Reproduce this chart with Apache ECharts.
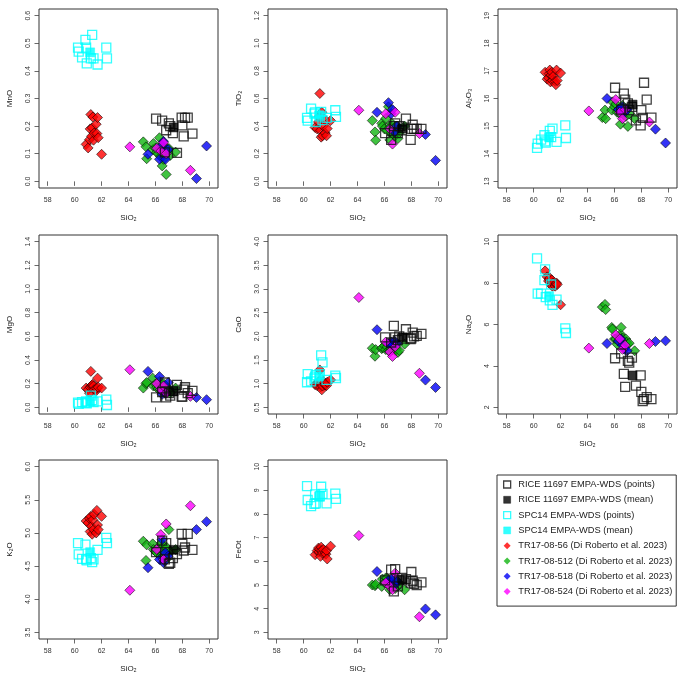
<!DOCTYPE html>
<html><head><meta charset="utf-8">
<script src="https://cdn.jsdelivr.net/npm/echarts@6/dist/echarts.min.js"></script>
<style>html,body{margin:0;padding:0;background:#fff}#c{width:685px;height:679px}</style>
</head><body><div id="c"></div>
<script>
// ---------- axis ticks ----------
const xTicks = [58, 60, 62, 64, 66, 68, 70];
const oxideLabels = ['MnO', 'TiO₂', 'Al₂O₃', 'MgO', 'CaO', 'Na₂O', 'K₂O', 'FeOt'];
const yTicksMnO = [0, 0.1, 0.2, 0.3, 0.4, 0.5, 0.6];
const yTicksTiO2 = [0, 0.2, 0.4, 0.6, 0.8, 1.0, 1.2];
const yTicksAl2O3 = [13, 14, 15, 16, 17, 18, 19];
const yTicksMgO = [0, 0.2, 0.4, 0.6, 0.8, 1.0, 1.2, 1.4];
const yTicksCaO = [0.5, 1.0, 1.5, 2.0, 2.5, 3.0, 3.5, 4.0];
const yTicksNa2O = [2, 4, 6, 8, 10];
const yTicksK2O = [3.5, 4.0, 4.5, 5.0, 5.5, 6.0];
const yTicksFeOt = [3, 4, 5, 6, 7, 8, 9, 10];
const yDecimals = [1, 1, 0, 1, 1, 0, 1, 0];

// ---------- RICE 11697 EMPA-WDS (points) ----------
const riceSiO2 = [66.05, 66.5, 66.7, 66.8, 67.0, 67.1, 67.3, 67.6, 67.95, 68.0, 68.1, 68.2, 68.4, 68.75];
const riceMnO  = [0.227, 0.22, 0.105, 0.185, 0.21, 0.20, 0.175, 0.103, 0.231, 0.203, 0.163, 0.23, 0.231, 0.173];
const riceTiO2 = [0.35, 0.30, 0.40, 0.42, 0.35, 0.40, 0.37, 0.455, 0.30, 0.38, 0.41, 0.38, 0.38, 0.38];
const riceAl2O3 = [16.39, 15.6, 16.18, 15.96, 15.82, 15.58, 15.7, 15.21, 15.03, 15.58, 15.3, 16.57, 15.96, 15.31];
const riceMgO  = [0.085, 0.13, 0.21, 0.085, 0.12, 0.10, 0.14, 0.19, 0.09, 0.09, 0.15, 0.17, 0.12, 0.14];
const riceCaO  = [1.98, 1.87, 2.22, 1.98, 1.92, 2.0, 1.95, 2.15, 1.94, 1.96, 2.08, 2.0, 2.01, 2.05];
const riceNa2O = [4.37, 4.6, 3.62, 2.99, 4.24, 4.16, 4.4, 3.05, 3.54, 2.75, 2.3, 2.4, 2.49, 2.4];
const riceK2O  = [4.71, 4.885, 4.6, 4.845, 4.535, 4.55, 4.62, 4.68, 4.985, 4.835, 4.735, 4.78, 4.985, 4.745];
const riceFeOt = [5.2, 5.65, 4.73, 5.67, 4.94, 5.2, 5.3, 5.25, 5.1, 5.55, 5.18, 5.05, 5.0, 5.11];

// ---------- RICE 11697 EMPA-WDS (mean) ----------
const riceMeanSiO2 = [67.35];
const riceMeanMnO = [0.195];
const riceMeanTiO2 = [0.382];
const riceMeanAl2O3 = [15.78];
const riceMeanMgO = [0.135];
const riceMeanCaO = [1.98];
const riceMeanNa2O = [3.54];
const riceMeanK2O = [4.745];
const riceMeanFeOt = [5.22];

// ---------- SPC14 EMPA-WDS (points) ----------
const spcSiO2 = [60.25, 60.3, 60.55, 60.8, 60.85, 60.9, 61.2, 61.3, 61.4, 61.7, 62.35, 62.4];
const spcMnO  = [0.484, 0.47, 0.449, 0.512, 0.484, 0.427, 0.445, 0.53, 0.445, 0.423, 0.484, 0.445];
const spcTiO2 = [0.46, 0.44, 0.527, 0.49, 0.50, 0.43, 0.47, 0.503, 0.443, 0.46, 0.515, 0.467];
const spcAl2O3 = [14.21, 14.37, 14.51, 14.67, 14.45, 14.4, 14.83, 14.6, 14.91, 14.43, 15.03, 14.57];
const spcMgO  = [0.04, 0.03, 0.045, 0.04, 0.05, 0.035, 0.1, 0.06, 0.045, 0.05, 0.065, 0.02];
const spcCaO  = [1.03, 1.2, 1.05, 1.11, 1.15, 1.18, 1.2, 1.6, 1.45, 1.08, 1.17, 1.12];
const spcNa2O = [9.19, 7.49, 7.49, 8.14, 8.66, 7.32, 7.16, 7.93, 6.95, 7.2, 5.81, 5.59];
const spcK2O  = [4.845, 4.675, 4.61, 4.825, 4.6, 4.585, 4.62, 4.56, 4.6, 4.745, 4.925, 4.845];
const spcFeOt = [9.18, 8.59, 8.33, 8.43, 8.83, 8.45, 8.75, 9.15, 8.85, 8.45, 8.86, 8.64];

// ---------- SPC14 EMPA-WDS (mean) ----------
const spcMeanSiO2 = [61.15];
const spcMeanMnO = [0.467];
const spcMeanTiO2 = [0.479];
const spcMeanAl2O3 = [14.6];
const spcMeanMgO = [0.05];
const spcMeanCaO = [1.15];
const spcMeanNa2O = [7.37];
const spcMeanK2O = [4.71];
const spcMeanFeOt = [8.73];

// ---------- TR17-08-56 ----------
const t56SiO2 = [60.85, 61.0, 61.1, 61.15, 61.2, 61.25, 61.3, 61.35, 61.4, 61.45, 61.6, 61.65, 61.7, 61.75, 62.0];
const t56MnO  = [0.134, 0.121, 0.151, 0.19, 0.242, 0.163, 0.194, 0.233, 0.149, 0.175, 0.207, 0.173, 0.231, 0.158, 0.098];
const t56TiO2 = [0.39, 0.38, 0.43, 0.47, 0.636, 0.37, 0.32, 0.50, 0.33, 0.40, 0.35, 0.44, 0.33, 0.382, 0.44];
const t56Al2O3 = [16.95, 16.7, 16.75, 16.9, 17.03, 16.6, 16.85, 16.95, 16.65, 16.8, 16.62, 16.5, 17.03, 16.65, 16.92];
const t56MgO  = [0.163, 0.15, 0.12, 0.17, 0.304, 0.18, 0.19, 0.195, 0.18, 0.15, 0.14, 0.16, 0.247, 0.17, 0.163];
const t56CaO  = [0.98, 0.96, 1.02, 1.05, 1.29, 0.93, 1.0, 0.87, 0.95, 1.05, 0.97, 1.0, 0.96, 1.03, 1.08];
const t56Na2O = [8.59, 8.3, 8.1, 8.2, 8.25, 8.05, 7.9, 8.15, 7.85, 8.0, 7.85, 7.95, 8.0, 7.93, 6.95];
const t56K2O  = [5.18, 5.15, 5.22, 5.02, 5.25, 5.1, 4.98, 5.2, 5.05, 5.28, 5.0, 5.34, 5.12, 5.05, 5.25];
const t56FeOt = [6.28, 6.45, 6.56, 6.4, 6.5, 6.21, 6.6, 6.45, 6.35, 6.5, 6.35, 6.3, 6.45, 6.1, 6.64];

// ---------- TR17-08-512 ----------
const t512SiO2 = [65.1, 65.3, 65.35, 65.8, 65.85, 66.0, 66.1, 66.2, 66.3, 66.4, 66.45, 66.5, 66.55, 66.6, 66.7, 66.8, 66.85, 66.9, 67.0, 67.1, 67.5];
const t512MnO  = [0.143, 0.125, 0.082, 0.115, 0.137, 0.12, 0.105, 0.10, 0.158, 0.09, 0.13, 0.056, 0.11, 0.08, 0.10, 0.025, 0.12, 0.11, 0.119, 0.094, 0.106];
const t512TiO2 = [0.44, 0.358, 0.298, 0.42, 0.40, 0.38, 0.455, 0.37, 0.54, 0.30, 0.40, 0.35, 0.42, 0.345, 0.38, 0.33, 0.40, 0.36, 0.31, 0.35, 0.40];
const t512Al2O3 = [15.31, 15.58, 15.27, 15.58, 15.88, 15.7, 15.8, 15.5, 15.6, 15.45, 15.07, 15.65, 15.5, 15.75, 15.4, 15.55, 15.35, 15.6, 14.99, 15.45, 15.27];
const t512MgO  = [0.163, 0.20, 0.21, 0.247, 0.18, 0.197, 0.17, 0.155, 0.22, 0.15, 0.19, 0.17, 0.14, 0.20, 0.15, 0.18, 0.13, 0.16, 0.14, 0.12, 0.163];
const t512CaO  = [1.75, 1.58, 1.72, 1.74, 1.76, 1.80, 1.72, 1.78, 1.70, 1.69, 1.82, 1.75, 1.80, 1.72, 1.78, 1.70, 1.75, 1.72, 1.66, 1.70, 1.835];
const t512Na2O = [6.84, 6.97, 6.72, 5.86, 5.78, 5.3, 5.3, 5.05, 5.2, 5.4, 5.54, 5.86, 5.2, 5.35, 5.0, 5.1, 5.3, 5.15, 5.05, 5.1, 4.73];
const t512K2O  = [4.875, 4.585, 4.82, 4.835, 4.75, 4.72, 4.70, 4.78, 4.735, 4.65, 4.85, 4.75, 4.62, 4.80, 4.70, 4.60, 4.78, 4.68, 5.05, 4.72, 4.75];
const t512FeOt = [5.0, 4.97, 5.03, 4.94, 5.25, 5.1, 5.3, 5.29, 5.05, 4.8, 5.1, 5.2, 4.9, 5.15, 5.0, 4.85, 5.1, 5.2, 4.95, 5.05, 4.8];

// ---------- TR17-08-518 ----------
const t518SiO2 = [65.45, 66.3, 66.5, 66.6, 66.75, 66.95, 69.05, 69.8];
const t518MnO  = [0.098, 0.08, 0.13, 0.145, 0.08, 0.115, 0.01, 0.128];
const t518TiO2 = [0.50, 0.57, 0.49, 0.52, 0.36, 0.40, 0.34, 0.152];
const t518Al2O3 = [16.0, 15.6, 15.55, 15.7, 15.5, 15.6, 14.89, 14.39];
const t518MgO  = [0.304, 0.26, 0.11, 0.13, 0.12, 0.21, 0.084, 0.065];
const t518CaO  = [2.14, 1.85, 1.88, 1.82, 1.90, 1.85, 1.076, 0.92];
const t518Na2O = [5.08, 5.2, 5.3, 5.0, 4.8, 4.73, 5.18, 5.21];
const t518K2O  = [4.475, 4.6, 4.9, 4.55, 4.70, 4.65, 5.05, 5.17];
const t518FeOt = [5.57, 5.2, 5.1, 5.3, 5.0, 5.15, 3.99, 3.74];

// ---------- TR17-08-524 ----------
const t524SiO2 = [64.1, 66.1, 66.4, 66.6, 66.8, 68.6];
const t524MnO  = [0.125, 0.12, 0.11, 0.14, 0.10, 0.04];
const t524TiO2 = [0.515, 0.49, 0.38, 0.27, 0.50, 0.346];
const t524Al2O3 = [15.55, 15.96, 15.5, 15.27, 15.6, 15.15];
const t524MgO  = [0.318, 0.2, 0.15, 0.18, 0.12, 0.093];
const t524CaO  = [2.82, 1.88, 1.67, 1.575, 1.78, 1.22];
const t524Na2O = [4.86, 5.5, 5.3, 4.8, 5.0, 5.08];
const t524K2O  = [4.135, 4.75, 4.975, 4.6, 5.135, 5.41];
const t524FeOt = [7.09, 5.1, 4.95, 4.8, 5.5, 3.66];

// ---------- assembly ----------
const yTickSets = [yTicksMnO, yTicksTiO2, yTicksAl2O3, yTicksMgO, yTicksCaO, yTicksNa2O, yTicksK2O, yTicksFeOt];
const FONT = '"Liberation Sans", Arial, Helvetica, sans-serif';
const hollow = 'rgba(0,0,0,0)';
const groups = [
  { name: 'TR17-08-56 (Di Roberto et al. 2023)', x: t56SiO2, ys: [t56MnO, t56TiO2, t56Al2O3, t56MgO, t56CaO, t56Na2O, t56K2O, t56FeOt],
    symbol: 'diamond', size: 10, style: { color: '#ff0000', borderColor: '#000', borderWidth: 0.7 }, z: 2 },
  { name: 'TR17-08-512 (Di Roberto et al. 2023)', x: t512SiO2, ys: [t512MnO, t512TiO2, t512Al2O3, t512MgO, t512CaO, t512Na2O, t512K2O, t512FeOt],
    symbol: 'diamond', size: 10, style: { color: '#12b412', borderColor: '#000', borderWidth: 0.7 }, z: 2 },
  { name: 'TR17-08-518 (Di Roberto et al. 2023)', x: t518SiO2, ys: [t518MnO, t518TiO2, t518Al2O3, t518MgO, t518CaO, t518Na2O, t518K2O, t518FeOt],
    symbol: 'diamond', size: 10, style: { color: '#0000f5', borderColor: '#000', borderWidth: 0.7 }, z: 2 },
  { name: 'TR17-08-524 (Di Roberto et al. 2023)', x: t524SiO2, ys: [t524MnO, t524TiO2, t524Al2O3, t524MgO, t524CaO, t524Na2O, t524K2O, t524FeOt],
    symbol: 'diamond', size: 10, style: { color: '#ff00ff', borderColor: '#000', borderWidth: 0.7 }, z: 2 },
  { name: 'RICE 11697 EMPA-WDS (points)', x: riceSiO2, ys: [riceMnO, riceTiO2, riceAl2O3, riceMgO, riceCaO, riceNa2O, riceK2O, riceFeOt],
    symbol: 'rect', size: 9, style: { color: hollow, borderColor: '#111', borderWidth: 1.3 }, z: 3 },
  { name: 'RICE 11697 EMPA-WDS (mean)', x: riceMeanSiO2, ys: [riceMeanMnO, riceMeanTiO2, riceMeanAl2O3, riceMeanMgO, riceMeanCaO, riceMeanNa2O, riceMeanK2O, riceMeanFeOt],
    symbol: 'rect', size: 9, style: { color: '#000', borderColor: '#000', borderWidth: 0.5 }, z: 4 },
  { name: 'SPC14 EMPA-WDS (points)', x: spcSiO2, ys: [spcMnO, spcTiO2, spcAl2O3, spcMgO, spcCaO, spcNa2O, spcK2O, spcFeOt],
    symbol: 'rect', size: 9, style: { color: hollow, borderColor: '#00ffff', borderWidth: 1.3 }, z: 3 },
  { name: 'SPC14 EMPA-WDS (mean)', x: spcMeanSiO2, ys: [spcMeanMnO, spcMeanTiO2, spcMeanAl2O3, spcMeanMgO, spcMeanCaO, spcMeanNa2O, spcMeanK2O, spcMeanFeOt],
    symbol: 'rect', size: 9, style: { color: '#00ffff', borderColor: '#00ffff', borderWidth: 0.5 }, z: 4 }
];
const legendOrder = [4, 5, 6, 7, 0, 1, 2, 3];

const colLeft = [39, 268, 498];
const rowTop = [9, 235, 460];
const BOX = 179;
const X_MIN = 57.35, X_MAX = 70.65;

const grids = [], xAxes = [], yAxes = [], series = [];
for (let p = 0; p < 8; p++) {
  const r = Math.floor(p / 3), c = p % 3;
  grids.push({ left: colLeft[c], top: rowTop[r], width: BOX, height: BOX, show: true,
    borderColor: '#333', borderWidth: 1, backgroundColor: 'transparent', containLabel: false });
  const t = yTickSets[p];
  const span = t[t.length - 1] - t[0];
  xAxes.push({
    type: 'value', gridIndex: p, min: X_MIN, max: X_MAX,
    name: 'SiO₂', nameLocation: 'middle', nameGap: 26,
    nameTextStyle: { fontSize: 8, color: '#222', fontFamily: FONT },
    axisLine: { show: false },
    axisTick: { show: true, inside: false, length: 4.5, lineStyle: { color: '#444', width: 0.8 }, customValues: xTicks },
    axisLabel: { show: true, fontSize: 7, color: '#333', fontFamily: FONT, margin: 9, customValues: xTicks, formatter: v => String(v) },
    splitLine: { show: false }
  });
  const dec = yDecimals[p];
  yAxes.push({
    type: 'value', gridIndex: p, min: t[0] - 0.04 * span, max: t[t.length - 1] + 0.04 * span,
    name: oxideLabels[p], nameLocation: 'middle', nameGap: 25, nameRotate: 90,
    nameTextStyle: { fontSize: 8, color: '#222', fontFamily: FONT },
    axisLine: { show: false },
    axisTick: { show: true, inside: false, length: 4.5, lineStyle: { color: '#444', width: 0.8 }, customValues: t },
    axisLabel: { show: true, rotate: 90, fontSize: 7, color: '#333', fontFamily: FONT, margin: 7, customValues: t,
      formatter: v => Number(v).toFixed(dec) },
    splitLine: { show: false }
  });
  groups.forEach(g => {
    series.push({
      type: 'scatter', name: g.name, xAxisIndex: p, yAxisIndex: p,
      data: g.x.map((xv, i) => [xv, g.ys[p][i]]),
      symbol: g.symbol, symbolSize: g.size, itemStyle: g.style, z: g.z,
      emphasis: { disabled: true }, silent: true
    });
  });
}

const legendData = legendOrder.map(i => {
  const g = groups[i];
  const st = g.symbol === 'diamond'
    ? { color: g.style.color, borderColor: g.style.color, borderWidth: 0 }
    : g.style;
  return { name: g.name, icon: g.symbol === 'diamond' ? 'diamond' : 'rect', itemStyle: st };
});

const chart = echarts.init(document.getElementById('c'), null, { renderer: 'canvas' });
chart.setOption({
  animation: false,
  backgroundColor: '#fff',
  grid: grids, xAxis: xAxes, yAxis: yAxes, series: series,
  legend: {
    orient: 'vertical', left: 497, top: 475, padding: [5, 4, 10, 6],
    itemGap: 6.3, itemWidth: 7, itemHeight: 7,
    borderColor: '#333', borderWidth: 1, selectedMode: false,
    formatter: n => ' ' + n,
    textStyle: { fontSize: 9.3, color: '#222', fontFamily: FONT },
    data: legendData
  }
});
</script></body></html>
